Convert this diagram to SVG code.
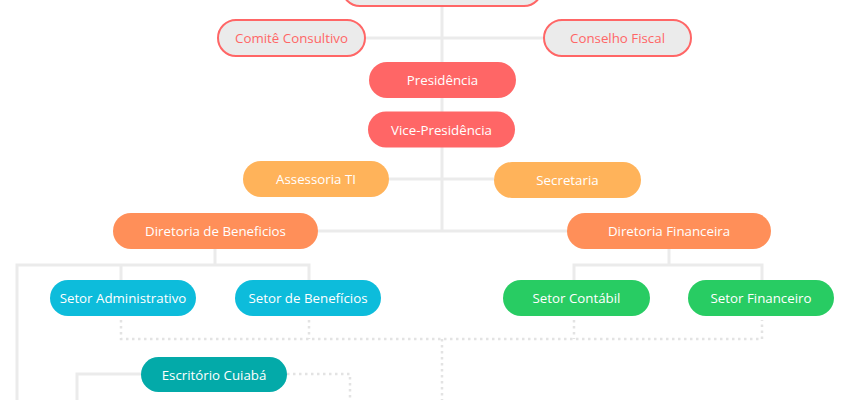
<svg xmlns="http://www.w3.org/2000/svg" width="850" height="400" viewBox="0 0 850 400">
<style>
text{font-family:"Open Sans","Noto Sans","DejaVu Sans",sans-serif;font-size:13.3px;text-anchor:middle;dominant-baseline:central;fill:#fff}
.out rect{fill:#ebebeb;stroke:#ff6666;stroke-width:2}
.out text{fill:#ff6666}
.red rect{fill:#ff6666}
.yel rect{fill:#ffb35a}
.ora rect{fill:#ff8f59}
.blu rect{fill:#0dbcdb}
.grn rect{fill:#28cc63}
.tea rect{fill:#03aaa9}
.solid{fill:none;stroke:#ebebeb;stroke-width:3}
.dot{fill:none;stroke:#e3e3e3;stroke-width:2.5;stroke-dasharray:2.5 3.5}
</style>
<rect width="850" height="400" fill="#fff"/>
<g id="connectors">
<path class="solid" d="M442,7V231M366,38H543M389,179H494M318,231H567"/>
<path class="solid" d="M215,249V265M17,400V265H309V280M121,265V280"/>
<path class="solid" d="M669,249V265M574,280V265H762V280"/>
<path class="solid" d="M141,374H77V400"/>
<path class="dot" d="M121,320V339H762V320M309,320V339M574,320V339M442,339V400M287,374H350V400"/>
</g>
<g id="top" class="out"><rect x="342" y="-30" width="200" height="36" rx="18"/></g>
<g id="comite" class="out"><rect x="218" y="20" width="147" height="36" rx="18"/><text x="291.5" y="38">Comitê Consultivo</text></g>
<g id="conselho" class="out"><rect x="544" y="20" width="147" height="36" rx="18"/><text x="617.5" y="38">Conselho Fiscal</text></g>
<g id="presidencia" class="red"><rect x="369" y="62" width="147" height="36" rx="18"/><text x="442.5" y="80">Presidência</text></g>
<g id="vice" class="red"><rect x="368" y="111.5" width="147" height="36" rx="18"/><text x="441.5" y="129.5">Vice-Presidência</text></g>
<g id="assessoria" class="yel"><rect x="243" y="161" width="146" height="36" rx="18"/><text x="316" y="179">Assessoria TI</text></g>
<g id="secretaria" class="yel"><rect x="494" y="162" width="147" height="36" rx="18"/><text x="567.5" y="180">Secretaria</text></g>
<g id="dirbenef" class="ora"><rect x="113" y="213" width="205" height="36" rx="18"/><text x="215.5" y="231">Diretoria de Beneficios</text></g>
<g id="dirfin" class="ora"><rect x="567" y="213" width="204" height="36" rx="18"/><text x="669" y="231">Diretoria Financeira</text></g>
<g id="setoradm" class="blu"><rect x="50" y="280" width="146" height="36" rx="18"/><text x="123" y="298">Setor Administrativo</text></g>
<g id="setorbenef" class="blu"><rect x="235" y="280" width="146" height="36" rx="18"/><text x="308" y="298">Setor de Benefícios</text></g>
<g id="setorcont" class="grn"><rect x="503" y="280" width="147" height="36" rx="18"/><text x="576.5" y="298">Setor Contábil</text></g>
<g id="setorfin" class="grn"><rect x="688" y="280" width="146" height="36" rx="18"/><text x="761" y="298">Setor Financeiro</text></g>
<g id="escritorio" class="tea"><rect x="141" y="357" width="146" height="35" rx="17.5"/><text x="214" y="374.5">Escritório Cuiabá</text></g>
</svg>
